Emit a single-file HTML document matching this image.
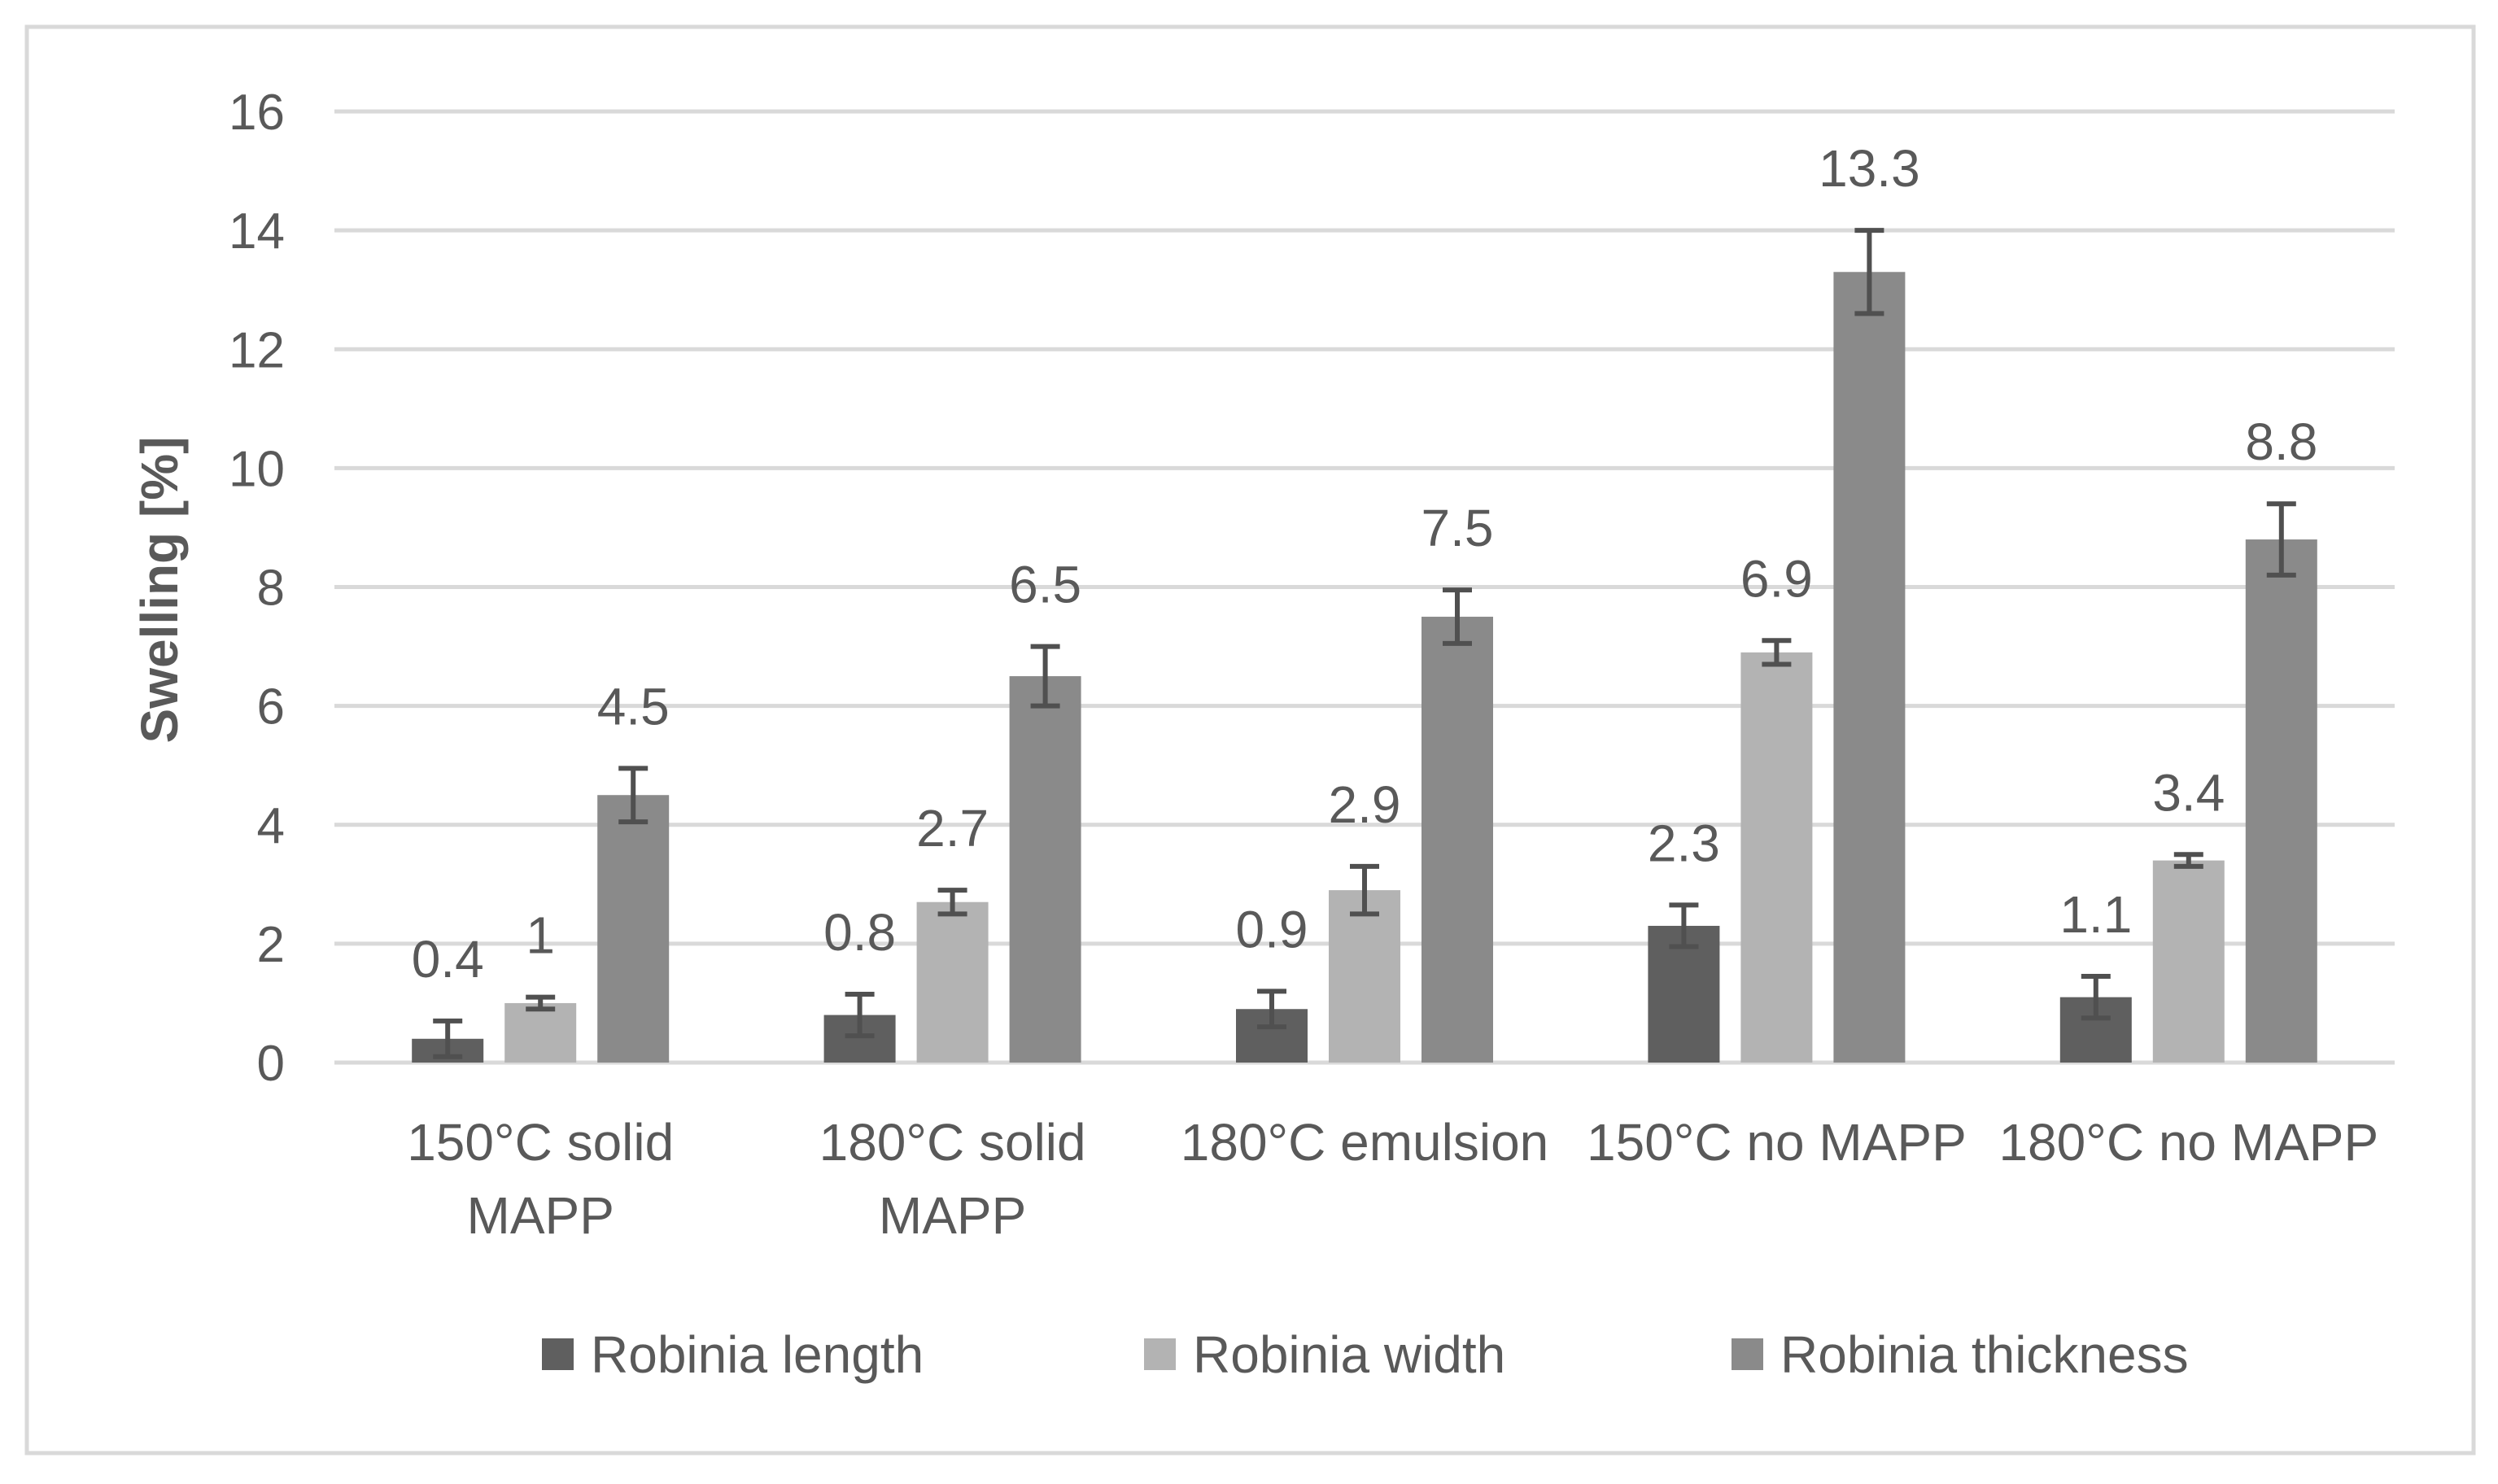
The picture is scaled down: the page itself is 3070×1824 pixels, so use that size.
<!DOCTYPE html>
<html><head><meta charset="utf-8"><style>
html,body{margin:0;padding:0;background:#fff;}
svg text{font-family:"Liberation Sans",sans-serif;fill:#595959;}
</style></head><body>
<svg id="chart" width="3070" height="1819" viewBox="0 0 3070 1819" xmlns="http://www.w3.org/2000/svg">
<rect x="33" y="33" width="3007" height="1753" fill="#fff" stroke="#d9d9d9" stroke-width="5"/>
<g id="grid"></g><g id="bars"></g><g id="labels"></g><g id="legend"></g>
<text transform="translate(218,725) rotate(-90)" text-anchor="middle" font-size="64" font-weight="bold">Swelling [%]</text>
</svg>
<script>
const categories=[["150°C solid","MAPP"],["180°C solid","MAPP"],["180°C emulsion"],["150°C no MAPP"],["180°C no MAPP"]];
const seriesNames=["Robinia length","Robinia width","Robinia thickness"];
const lengthVals=[0.4,0.8,0.9,2.3,1.1];
const widthVals=[1,2.7,2.9,6.9,3.4];
const thickVals=[4.5,6.5,7.5,13.3,8.8];
const lengthErr=[0.3,0.35,0.3,0.35,0.35];
const widthErr=[0.1,0.2,0.4,0.2,0.1];
const thickErr=[0.45,0.5,0.45,0.7,0.6];
const yTicks=[0,2,4,6,8,10,12,14,16];
const colors=["#5f5f5f","#b3b3b3","#8a8a8a"];
const NS="http://www.w3.org/2000/svg";
const X0=411,X1=2943,Y0=1306,Y16=137;
const y=v=>Y0-(v/16)*(Y0-Y16);
const cw=(X1-X0)/categories.length;
const bw=88,step=114;
const mk=(t,a,p)=>{const e=document.createElementNS(NS,t);for(const k in a)e.setAttribute(k,a[k]);p.appendChild(e);return e;};
const grid=document.getElementById('grid'),bars=document.getElementById('bars'),labels=document.getElementById('labels'),legend=document.getElementById('legend');
yTicks.forEach(t=>{
 const l=mk('line',{x1:X0,x2:X1,y1:y(t),y2:y(t),stroke:'#d9d9d9','stroke-width':5},grid);
 
 
 const tx=mk('text',{x:350,y:y(t)+22,'text-anchor':'end','font-size':62},labels);
 tx.textContent=t;
 
 
});
const series=[lengthVals,widthVals,thickVals],errs=[lengthErr,widthErr,thickErr];
categories.forEach((c,i)=>{
 const cx=X0+cw*(i+0.5);
 series.forEach((s,j)=>{
  const bx=cx+(j-1)*step;
  const v=s[i],e=errs[j][i];
  const r=mk('rect',{x:bx-bw/2,y:y(v),width:bw,height:Y0-y(v),fill:colors[j]},bars);
  
  
  const g=mk('g',{stroke:'#505050','stroke-width':6},bars);
  
  
  mk('line',{x1:bx,x2:bx,y1:y(v+e),y2:y(v-e)},g);
  mk('line',{x1:bx-18,x2:bx+18,y1:y(v+e),y2:y(v+e)},g);
  mk('line',{x1:bx-18,x2:bx+18,y1:y(v-e),y2:y(v-e)},g);
  const t=mk('text',{x:bx,y:y(v+e)-54,'text-anchor':'middle','font-size':64},labels);
  t.textContent=v;
  
  
 });
 c.forEach((line,k)=>{
  const t=mk('text',{x:cx,y:1426+k*90,'text-anchor':'middle','font-size':64},labels);
  t.textContent=line;
  
  
 });
});
const legX=[666,1406,2128];
seriesNames.forEach((n,j)=>{
 const g=mk('g',{},legend);
 
 
 mk('rect',{x:legX[j],y:1645,width:39,height:39,fill:colors[j]},g);
 const t=mk('text',{x:legX[j]+60,y:1687,'font-size':64},g);
 t.textContent=n;
});
</script>
</body></html>
